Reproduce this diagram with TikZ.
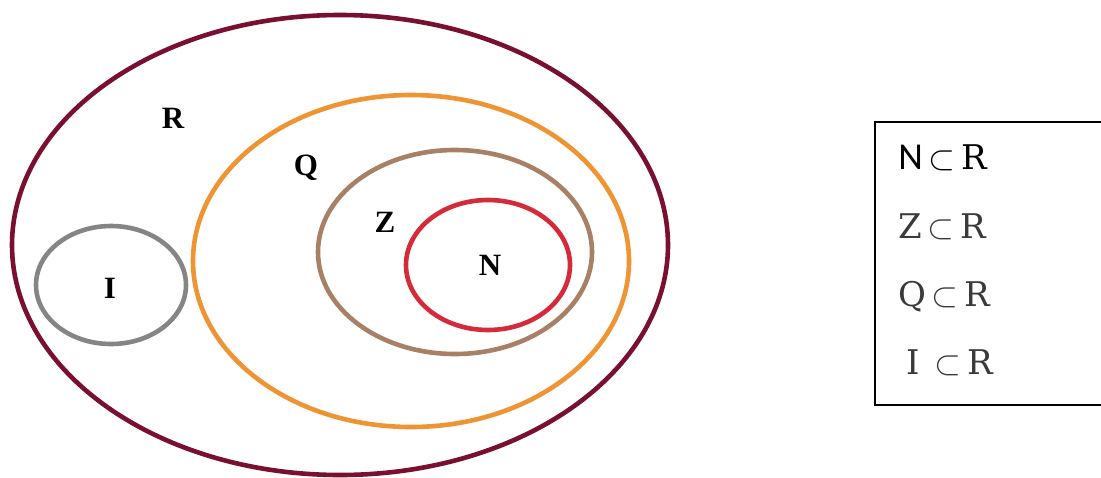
\documentclass[tikz,border=0pt]{standalone}
\usepackage{fontspec}
\setmainfont{Liberation Serif}
\newfontfamily\boxserif{DejaVu Serif}
\newfontfamily\boxsans{Carlito}
\definecolor{setR}{HTML}{7A1030}
\definecolor{setQ}{HTML}{EE9433}
\definecolor{setZ}{HTML}{A88066}
\definecolor{setN}{HTML}{D42A3A}
\definecolor{setI}{HTML}{858585}
\definecolor{relgray}{HTML}{3A3A3A}
\begin{document}
\begin{tikzpicture}[x=0.5pt, y=-0.5pt, line width=2.3pt,
    every node/.style={font=\fontsize{15.5}{18}\selectfont\bfseries},
    rel/.style={anchor=west, inner sep=0pt, font=\fontsize{17}{20}\selectfont\boxserif, text=relgray}]
  \useasboundingbox (0,0) rectangle (1101,477);
  % the sets
  \draw[setR] (340,245) ellipse [x radius=164pt, y radius=115pt];
  \draw[setQ] (411,261) ellipse [x radius=109pt, y radius=83pt];
  \draw[setZ] (455,252) ellipse [x radius=68.5pt, y radius=51pt];
  \draw[setN] (488,265) ellipse [x radius=41pt, y radius=32.5pt];
  \draw[setI] (111,285) ellipse [x radius=37.5pt, y radius=29.5pt];
  % labels of the sets
  \node (labR) at (173,118) {R};
  \node (labQ) at (306,168) {Q};
  \node (labZ) at (385,222) {Z};
  \node (labN) at (490,265) {N};
  \node (labI) at (110,288) {I};
  % box with the inclusions
  \draw[line width=0.9pt] (1110,122) -- (875,122) -- (875,405) -- (1110,405);
  \node[rel, text=black] (relN) at (896,158) {{\boxsans\fontsize{19}{20}\selectfont N}\,$\subset$\,R};
  \node[rel] (relZ) at (896,227) {Z\,$\subset$\,R};
  \node[rel] (relQ) at (896,297) {Q\,$\subset$\,R};
  \node[rel] (relI) at (904,363) {I\;\,$\subset$\,R};
\end{tikzpicture}
\end{document}
